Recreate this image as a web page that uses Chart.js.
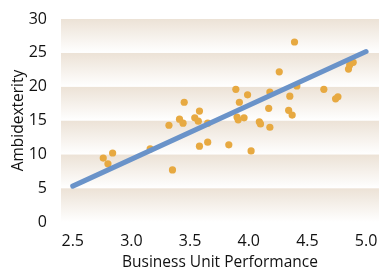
<!DOCTYPE html>
<html>
<head>
<meta charset="utf-8">
<script src="https://cdn.jsdelivr.net/npm/chart.js@4"></script>
<style>
  html, body { margin: 0; padding: 0; background: #fff; }
  #wrap { width: 383px; height: 272px; }
</style>
</head>
<body>
<div id="wrap"><canvas id="chart" width="383" height="272"></canvas></div>
<script>
// performance (x) and ambidexterity (y)
const perf = [2.76, 2.80, 2.84, 3.16, 3.35, 3.58, 3.65, 3.83, 4.02, 3.32,
  3.41, 3.44, 3.45, 3.54, 3.57, 3.58, 3.65, 3.89, 3.92, 3.99,
  3.90, 3.91, 3.96, 4.09, 4.10, 4.17, 4.18, 4.18, 4.26, 4.39,
  4.34, 4.37, 4.35, 4.41, 4.64, 4.74, 4.76, 4.85, 4.86, 4.89];
const ambi = [9.45, 8.6, 10.2, 10.8, 7.7, 11.2, 11.8, 11.4, 10.5, 14.3,
  15.2, 14.6, 17.7, 15.4, 14.9, 16.4, 14.6, 19.6, 17.7, 18.8,
  15.5, 15.1, 15.4, 14.8, 14.5, 16.8, 19.2, 14.0, 22.2, 26.6,
  16.5, 15.8, 18.6, 20.1, 19.6, 18.2, 18.5, 22.6, 23.2, 23.6];
// fitted line ends
const fitX = [2.5, 5.0];
const fitY = [5.3, 25.2];
const xTicks = [2.5, 3.0, 3.5, 4.0, 4.5, 5.0];
const yTicks = [0, 5, 10, 15, 20, 25, 30];

const font = "'Open Sans', 'Noto Sans', sans-serif";

// beige-to-white band in each 5-unit strip
const bands = {
  id: 'bands',
  beforeDatasetsDraw(chart) {
    const { ctx, chartArea: a, scales: { y } } = chart;
    ctx.save();
    for (let i = 0; i < yTicks.length - 1; i++) {
      const top = y.getPixelForValue(yTicks[i + 1]);
      const bot = y.getPixelForValue(yTicks[i]);
      const g = ctx.createLinearGradient(0, top, 0, bot);
      g.addColorStop(0, '#ece2d6');
      g.addColorStop(1, '#ffffff');
      ctx.fillStyle = g;
      ctx.fillRect(a.left, top, a.right - a.left, bot - top);
    }
    ctx.restore();
  }
};

new Chart(document.getElementById('chart'), {
  data: {
    datasets: [
      {
        type: 'line',
        data: fitX.map((x, i) => ({ x, y: fitY[i] })),
        borderColor: '#6a93c9',
        borderWidth: 5,
        borderCapStyle: 'round',
        pointRadius: 0,
        order: 0
      },
      {
        type: 'scatter',
        data: perf.map((x, i) => ({ x, y: ambi[i] })),
        backgroundColor: '#e7a941',
        borderWidth: 0,
        pointRadius: 3.6,
        order: 1
      }
    ]
  },
  options: {
    responsive: false,
    animation: false,
    layout: { padding: { top: 19, right: 0, left: 0, bottom: 0 } },
    plugins: { legend: { display: false }, tooltip: { enabled: false } },
    scales: {
      x: {
        type: 'linear',
        min: 2.4,
        max: 5.11,
        afterBuildTicks: s => { s.ticks = xTicks.map(v => ({ value: v })); },
        afterFit: s => { s.height = 50; },
        grid: { display: false },
        border: { display: false },
        ticks: {
          color: '#111',
          font: { family: font, size: 16 },
          padding: 2,
          maxRotation: 0,
          callback: v => Number(v).toFixed(1)
        },
        title: {
          display: true,
          text: 'Business Unit Performance',
          color: '#111',
          font: { family: font, size: 15.5 },
          padding: { top: 3, bottom: 0 }
        }
      },
      y: {
        min: 0,
        max: 30,
        afterBuildTicks: s => { s.ticks = yTicks.map(v => ({ value: v })); },
        afterFit: s => { s.width = 61; },
        grid: { display: false },
        border: { display: false },
        ticks: {
          color: '#111',
          font: { family: font, size: 16 },
          padding: 6
        },
        title: {
          display: true,
          text: 'Ambidexterity',
          color: '#111',
          font: { family: font, size: 15.5 },
          padding: { top: 9, bottom: 0 }
        }
      }
    }
  },
  plugins: [bands]
});
</script>
</body>
</html>
